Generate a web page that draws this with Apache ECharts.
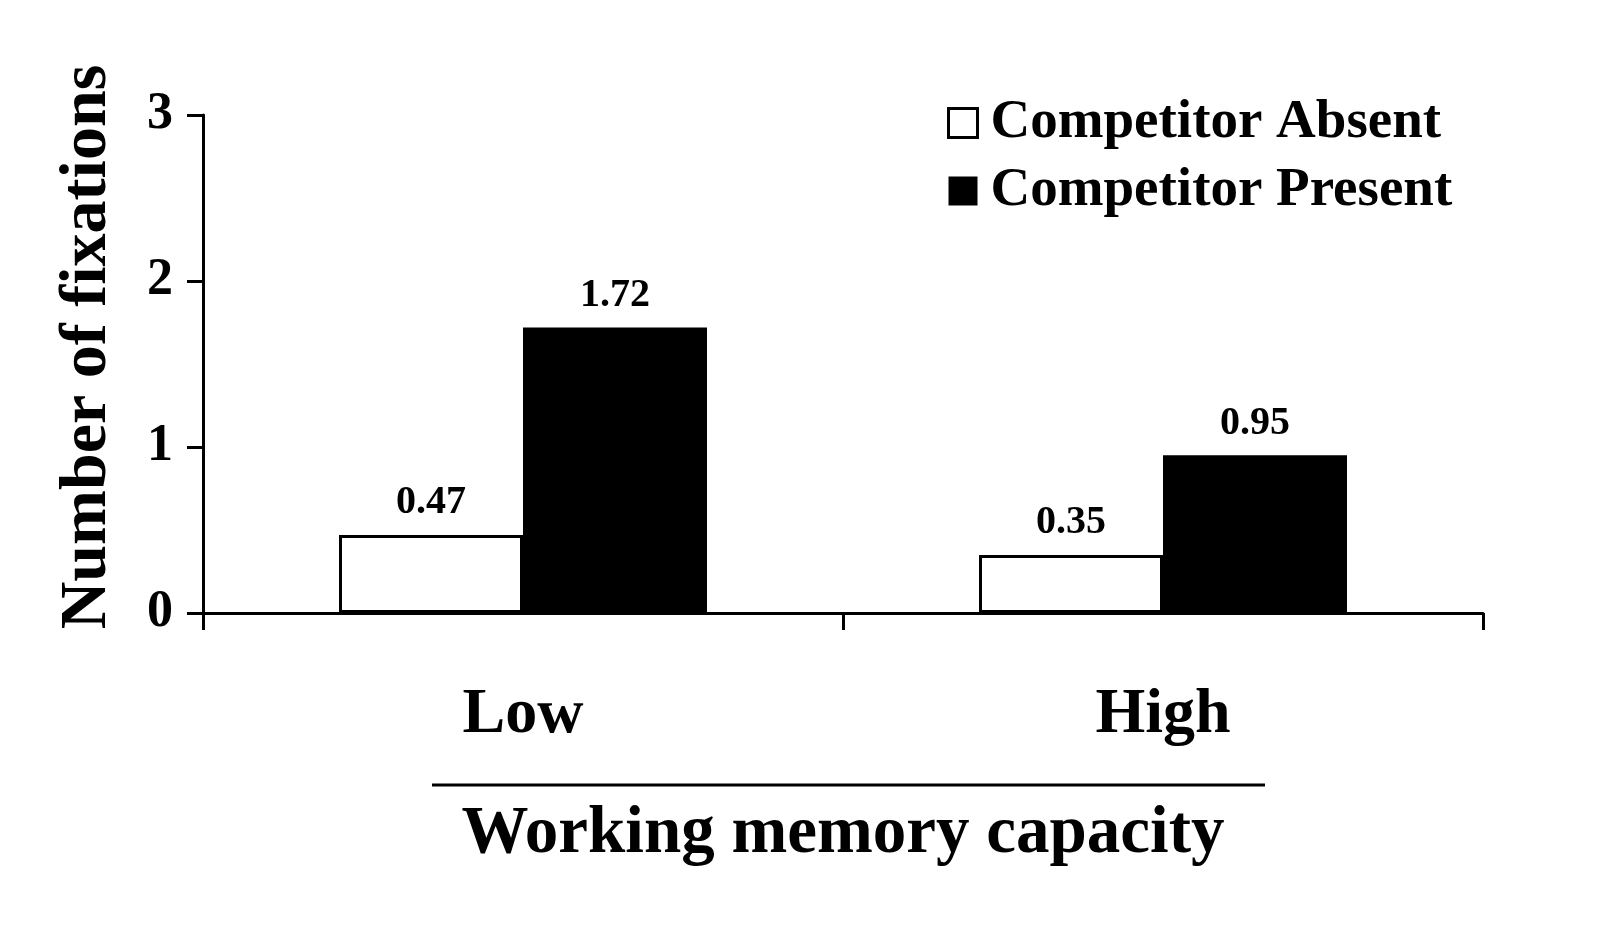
<!DOCTYPE html>
<html>
<head>
<meta charset="utf-8">
<style>
  html, body { margin: 0; padding: 0; background: #fff; }
  #chart { width: 1600px; height: 939px; }
</style>
<script src="https://cdn.jsdelivr.net/npm/echarts@6/dist/echarts.min.js"></script>
</head>
<body>
<div id="chart"></div>
<script>
// data
var categories = ['Low', 'High'];
var seriesNames = ['Competitor Absent', 'Competitor Present'];
var absentValues = [0.47, 0.35];
var presentValues = [1.72, 0.95];
var yMin = 0, yMax = 3, yStep = 1;

var font = '"Liberation Serif", "Times New Roman", serif';

var chart = echarts.init(document.getElementById('chart'));

// label over each bar
var barLabel = {
	show: true,
	position: 'top',
	distance: 12,
	fontFamily: font,
	fontWeight: 'bold',
	fontSize: 40,
	color: '#000',
	formatter: function (p) { return p.value.toFixed(2); }
};

chart.setOption({
	backgroundColor: '#fff',
	animation: false,
	grid: { left: 203, right: 117, top: 115, bottom: 326 },
	legend: {
		orient: 'vertical',
		left: 942,
		top: 90,
		itemWidth: 29,
		itemHeight: 29,
		itemGap: 12,
		icon: 'rect',
		textStyle: { fontFamily: font, fontWeight: 'bold', fontSize: 55, color: '#000', lineHeight: 56, padding: [0, 0, 0, 8] },
		data: [
			{ name: seriesNames[0], itemStyle: { color: '#fff', borderColor: '#000', borderWidth: 3 } },
			{ name: seriesNames[1], itemStyle: { color: '#000', borderColor: '#000', borderWidth: 0 } }
		]
	},
	xAxis: {
		type: 'category',
		data: categories,
		axisLine: { lineStyle: { color: '#000', width: 3 } },
		axisTick: { show: true, length: 17, lineStyle: { color: '#000', width: 3 } },
		axisLabel: { fontFamily: font, fontWeight: 'bold', fontSize: 64, color: '#000', margin: 70 },
		name: 'Working memory capacity',
		nameLocation: 'middle',
		nameGap: 188,
		nameTextStyle: { fontFamily: font, fontWeight: 'bold', fontSize: 67, color: '#000' }
	},
	yAxis: {
		type: 'value',
		min: yMin,
		max: yMax,
		interval: yStep,
		splitLine: { show: false },
		axisLine: { show: true, lineStyle: { color: '#000', width: 3 } },
		axisTick: { show: true, length: 16, lineStyle: { color: '#000', width: 3 } },
		axisLabel: { fontFamily: font, fontWeight: 'bold', fontSize: 52, color: '#000', margin: 30 },
		name: 'Number of fixations',
		nameLocation: 'middle',
		nameGap: 82,
		nameRotate: 90,
		nameTextStyle: { fontFamily: font, fontWeight: 'bold', fontSize: 66, color: '#000', padding: [0, 0, 0, 34] }
	},
	graphic: [{
		// rule between category labels and axis title
		type: 'line',
		shape: { x1: 432, y1: 785, x2: 1265, y2: 785 },
		style: { stroke: '#000', lineWidth: 3 }
	}],
	series: [{
		name: seriesNames[0],
		type: 'bar',
		data: absentValues,
		barWidth: 184,
		barGap: '0%',
		itemStyle: { color: '#fff', borderColor: '#000', borderWidth: 3 },
		label: barLabel
	}, {
		name: seriesNames[1],
		type: 'bar',
		data: presentValues,
		barWidth: 184,
		itemStyle: { color: '#000', borderColor: '#000', borderWidth: 3 },
		label: barLabel
	}]
});
</script>
</body>
</html>
